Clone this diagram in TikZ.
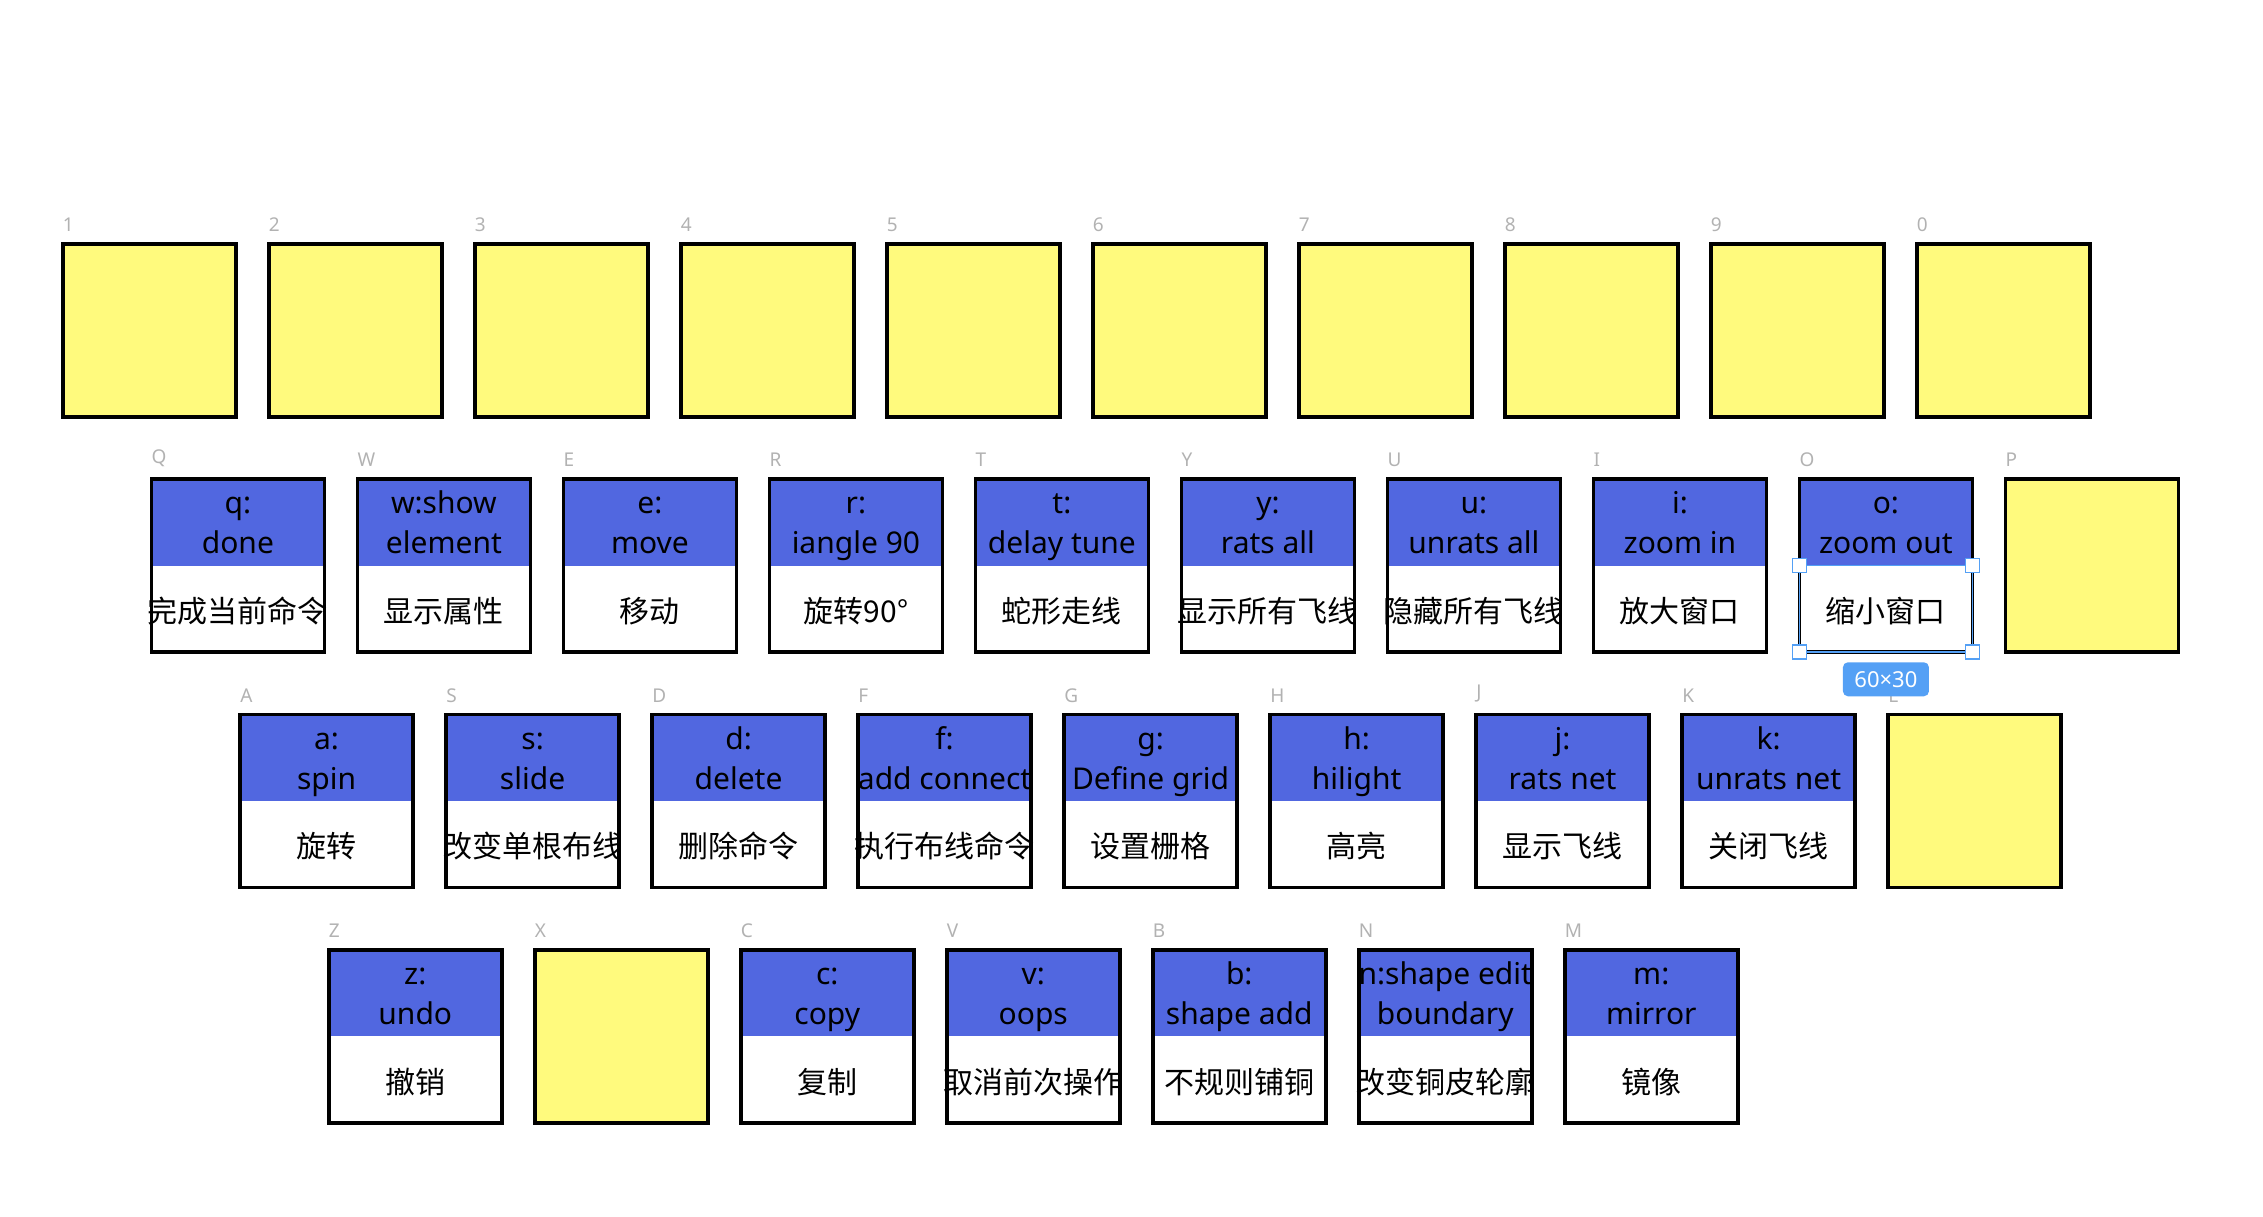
\documentclass[tikz,border=0pt]{standalone}
\usepackage{fontspec}
\setmainfont{Noto Sans}
\newfontfamily\zhfont{Noto Sans CJK SC}
\usetikzlibrary{positioning}
\definecolor{keyblue}{RGB}{81,103,224}
\definecolor{keyyellow}{RGB}{255,250,125}
\definecolor{labelgray}{RGB}{178,178,178}
\definecolor{selblue}{RGB}{84,160,245}
\tikzset{
  keyhalf/.style={minimum width=173pt,minimum height=86.5pt,inner sep=0pt,outer sep=0pt},
  keyframe/.style={draw=black,line width=3.5pt},
}

\begin{document}
\begin{tikzpicture}[x=1pt,y=-1pt,
        keytop/.style={keyhalf,fill=keyblue,anchor=north west},
        keybot/.style={keyhalf,fill=white},
        blankkey/.style={minimum size=173pt,inner sep=0pt,outer sep=0pt,fill=keyyellow,
          draw=black,line width=3.5pt,anchor=north west},
        cmdtext/.style={align=center,inner sep=0pt,font=\fontsize{30}{40}\selectfont},
        zhtext/.style={inner sep=0pt,font=\zhfont\fontsize{30}{36}\selectfont},
        keylabel/.style={inner sep=0pt,text=labelgray,font=\fontsize{19}{22}\selectfont},
        handle/.style={draw=selblue,fill=white,line width=1.5pt,minimum size=14pt,inner sep=0pt},
        sizetag/.style={fill=selblue,text=white,rounded corners=5pt,minimum width=86pt,
          minimum height=34pt,inner sep=0pt,font=\fontsize{22}{24}\selectfont},
        ]
        \useasboundingbox (0,0) rectangle (2263,1216);
        % command keys: name/row/column/first line/second line/chinese
        \foreach \k/\r/\c/\ta/\tb/\zh in {
          Q/1/0/q:/done/完成当前命令,
          W/1/1/w:show/element/显示属性,
          E/1/2/e:/move/移动,
          R/1/3/r:/iangle 90/旋转90°,
          T/1/4/t:/delay tune/蛇形走线,
          Y/1/5/y:/rats all/显示所有飞线,
          U/1/6/u:/unrats all/隐藏所有飞线,
          I/1/7/i:/zoom in/放大窗口,
          O/1/8/o:/zoom out/缩小窗口,
          A/2/0/a:/spin/旋转,
          S/2/1/s:/slide/改变单根布线,
          D/2/2/d:/delete/删除命令,
          F/2/3/f:/add connect/执行布线命令,
          G/2/4/g:/Define grid/设置栅格,
          H/2/5/h:/hilight/高亮,
          J/2/6/j:/rats net/显示飞线,
          K/2/7/k:/unrats net/关闭飞线,
          Z/3/0/z:/undo/撤销,
          C/3/2/c:/copy/复制,
          V/3/3/v:/oops/取消前次操作,
          B/3/4/b:/shape add/不规则铺铜,
          N/3/5/n:shape edit/boundary/改变铜皮轮廓,
          M/3/6/m:/mirror/镜像}
        {
          \node[keytop] (\k-top) at ({62.75+88.67*\r+206*\c},{243.75+235.33*\r}) {};
          \node[keybot,below=0pt of \k-top] (\k-bot) {};
          \node[cmdtext] (\k-cmd) at ([yshift=-47pt]\k-top.north) {\ta\vphantom{hg}\\\tb\vphantom{hg}};
          \node[zhtext] (\k-zh) at ([yshift=-132pt]\k-top.north) {\zh};
          \draw[keyframe] (\k-top.north west) rectangle (\k-bot.south east);
          \node[keylabel,above right=12pt and 0pt of \k-top.north west] (\k-lbl) {\k};
        }
        % empty keys
        \foreach \k/\lab/\r/\c in {k1/1/0/0,k2/2/0/1,k3/3/0/2,k4/4/0/3,k5/5/0/4,
          k6/6/0/5,k7/7/0/6,k8/8/0/7,k9/9/0/8,k0/0/0/9,P/P/1/9,L/L/2/8,X/X/3/1}
        {
          \node[blankkey] (\k) at ({62.75+88.67*\r+206*\c},{243.75+235.33*\r}) {};
          \node[keylabel,above right=12pt and 0pt of \k.north west] (\k-lbl) {\lab};
        }
        % selection on the o key
        \draw[selblue,line width=1.5pt] (O-bot.north west) rectangle (O-bot.south east);
        \foreach \a/\n in {north west/nw,north east/ne,south west/sw,south east/se}
          \node[handle] (O-\n) at (O-bot.\a) {};
        \node[sizetag,below=10pt of O-bot.south] (O-size) {60×30};
\end{tikzpicture}
\end{document}
